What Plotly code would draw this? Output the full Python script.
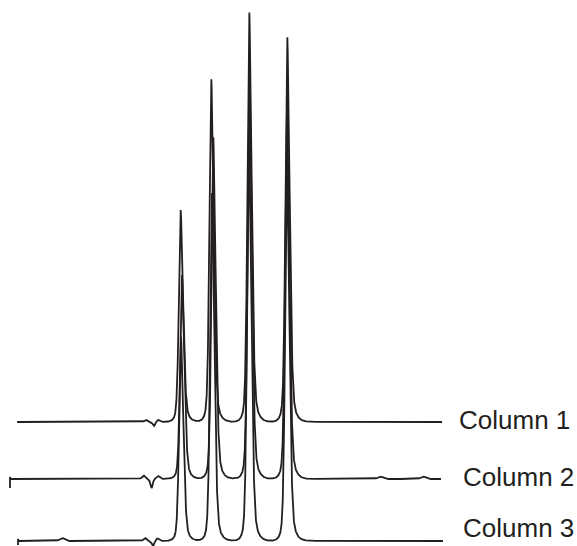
import numpy as np
import plotly.graph_objects as go

# ---------------- data ----------------
columns = ["Column 1", "Column 2", "Column 3"]
offsets = [119, 62, 0]            # stacking offset of each trace (mAU)
run_start = [0.2, 0.0, 0.2]       # min
run_end = [10.8, 10.775, 10.825]  # min

# main peaks: retention time (min) and height (mAU)
rt_col1 = [4.268, 5.033, 5.983, 6.933]
rt_col2 = [4.300, 5.083, 5.988, 6.925]
rt_col3 = [4.275, 5.050, 5.975, 6.925]
h_col1 = [212, 344, 411, 386]
h_col2 = [204, 343, 407, 379]
h_col3 = [205, 348, 410, 384]
front_hw = [0.055, 0.055, 0.055]     # core half width at half height, front (min)
tail_hw = [0.070, 0.070, 0.070]      # core half width at half height, tail (min)
front_skirt = [0.0625, 0.0625, 0.0625]  # skirt decay, front (min)
tail_skirt = [0.0875, 0.0875, 0.0875]   # skirt decay, tail (min)

# small baseline disturbances: time (min), amplitude (mAU), width (min)
dist_t_col1 = [3.400, 3.600, 3.7125]
dist_a_col1 = [2.0, -4.0, 2.0]
dist_w_col1 = [0.04, 0.03, 0.04]
dist_t_col2 = [3.3375, 3.5375, 3.700, 9.250, 10.325]
dist_a_col2 = [3.5, -9.0, 3.0, 2.5, 2.5]
dist_w_col2 = [0.04, 0.03, 0.04, 0.06, 0.06]
dist_t_col3 = [1.300, 3.375, 3.575, 3.6875]
dist_a_col3 = [3.0, 3.0, -5.0, 2.5]
dist_w_col3 = [0.06, 0.04, 0.03, 0.04]

# injection marks at the start of each run (mAU)
lead_col1 = [1.0]
lead_col2 = [-9.0, 2.0]
lead_col3 = [-4.0, 2.0]

# ---------------- build traces ----------------
rts = [rt_col1, rt_col2, rt_col3]
hs = [h_col1, h_col2, h_col3]
dts = [dist_t_col1, dist_t_col2, dist_t_col3]
das = [dist_a_col1, dist_a_col2, dist_a_col3]
dws = [dist_w_col1, dist_w_col2, dist_w_col3]
leads = [lead_col1, lead_col2, lead_col3]

ETA = 0.3


def peak(t, t0, h, wf, wt, sf, st):
    front = t < t0
    w = np.where(front, wf, wt)
    s = np.where(front, sf, st)
    d = t - t0
    g = np.exp(-np.log(2) * (d / w) ** 2)
    skirt = np.exp(-np.abs(d) / s)
    return h * ((1 - ETA) * g + ETA * skirt)


fig = go.Figure()
ink = "#231f20"
for i in range(3):
    t = np.arange(run_start[i], run_end[i] + 1e-9, 0.002)
    s = np.zeros_like(t)
    for t0, h in zip(rts[i], hs[i]):
        s += peak(t, t0, h, front_hw[i], tail_hw[i],
                  front_skirt[i], tail_skirt[i])
    for t0, a, w in zip(dts[i], das[i], dws[i]):
        s += a * np.exp(-0.5 * ((t - t0) / w) ** 2)
    x = np.concatenate([[run_start[i]] * len(leads[i]), t])
    y = np.concatenate([leads[i], s]) + offsets[i]
    fig.add_trace(go.Scatter(x=x, y=y, mode="lines",
                             line=dict(color=ink, width=1.8),
                             name=columns[i], showlegend=False,
                             hoverinfo="skip"))

W, H = 577, 546
label_x_px = [457, 461, 461]
label_y_px = [420, 477, 528]
for i in range(3):
    fig.add_annotation(text=columns[i], xref="paper", yref="paper",
                       x=label_x_px[i] / W, y=1 - label_y_px[i] / H,
                       xanchor="left", yanchor="middle", showarrow=False,
                       font=dict(family="Liberation Sans, Arial, sans-serif",
                                 size=26, color=ink))

fig.update_layout(
    width=W, height=H,
    margin=dict(l=0, r=0, t=0, b=0),
    paper_bgcolor="white", plot_bgcolor="white",
    xaxis=dict(range=[-0.25, 14.175], visible=False, fixedrange=True),
    yaxis=dict(range=[-5, 541], visible=False, fixedrange=True),
)

fig.write_html("out.html",
               config={"displayModeBar": False},
               post_script="document.body.style.margin='0';"
                           "document.body.style.overflow='hidden';")
